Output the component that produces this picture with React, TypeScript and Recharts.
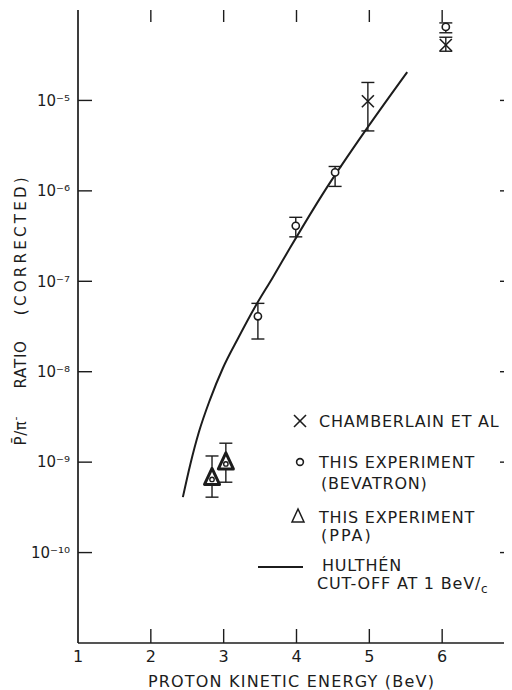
import React from 'react';
import { ComposedChart, Scatter, Line, XAxis, YAxis, ErrorBar } from 'recharts';

const INK = '#1c1c1c';
const FONT = '"DejaVu Sans", "Liberation Sans", sans-serif';

// axis ticks
const xTicks = [1, 2, 3, 4, 5, 6];
const xTickMarks = [2, 3, 4, 5, 6];
const yTicks = [1e-10, 1e-9, 1e-8, 1e-7, 1e-6, 1e-5];
const X_MIN = 1;
const X_MAX = 7;
const Y_MIN = 1e-11;
const Y_MAX = 1e-4;

// Chamberlain et al (x markers)
const chamberlainEnergy = [4.98, 6.05];
const chamberlainRatio = [9.8e-6, 4.1e-5];
const chamberlainLow = [4.6e-6, 3.5e-5];
const chamberlainHigh = [1.58e-5, 5.0e-5];

// This experiment (Bevatron) – circles
const bevatronEnergy = [3.47, 3.99, 4.53, 6.05];
const bevatronRatio = [4.1e-8, 4.1e-7, 1.6e-6, 6.5e-5];
const bevatronLow = [2.3e-8, 3.1e-7, 1.12e-6, 5.6e-5];
const bevatronHigh = [5.7e-8, 5.1e-7, 1.86e-6, 7.2e-5];

// This experiment (PPA) – triangles
const ppaEnergy = [2.84, 3.03];
const ppaRatio = [6.6e-10, 9.8e-10];
const ppaLow = [4.1e-10, 6.0e-10];
const ppaHigh = [1.17e-9, 1.62e-9];

// Hulthen cut-off curve
const hulthenEnergy = [2.44, 2.54, 2.66, 2.81, 2.99, 3.2, 3.43, 3.67, 3.91, 4.37, 4.97, 5.52];
const hulthenRatio = [4.1e-10, 9.3e-10, 2.15e-9, 4.86e-9, 1.1e-8, 2.36e-8, 5.2e-8, 1.09e-7, 2.33e-7, 9.5e-7, 4.95e-6, 2.06e-5];

const withErr = (xs: number[], ys: number[], lo: number[], hi: number[]) =>
  xs.map((x, i) => ({ x, y: ys[i], err: [ys[i] - lo[i], hi[i] - ys[i]] }));

const chamberlainData = withErr(chamberlainEnergy, chamberlainRatio, chamberlainLow, chamberlainHigh);
const bevatronData = withErr(bevatronEnergy, bevatronRatio, bevatronLow, bevatronHigh);
const ppaData = withErr(ppaEnergy, ppaRatio, ppaLow, ppaHigh);
const hulthenData = hulthenEnergy.map((x, i) => ({ x, y: hulthenRatio[i] }));

// frame tick marks, placed through the chart scales
const bottomMarks = xTickMarks.map((x) => ({ x, y: Y_MIN }));
const topMarks = xTickMarks.map((x) => ({ x, y: Y_MAX }));
const leftMarks = yTicks.map((y) => ({ x: X_MIN, y }));
const rightMarks = yTicks.map((y) => ({ x: X_MAX, y }));

const mk = (dx: number, dy: number) => (p: any) => {
  const { cx, cy } = p;
  if (cx == null || cy == null) return <g />;
  return <line x1={cx} y1={cy} x2={cx + dx} y2={cy + dy} stroke={INK} strokeWidth={1.4} />;
};
const UpMark = mk(0, -14);
const DownMark = mk(0, 12);
const RightwardMark = mk(14, 0);
const LeftwardMark = mk(-15, 0);

const XMark = (p: any) => {
  const { cx, cy } = p;
  if (cx == null || cy == null) return <g />;
  return (
    <g stroke={INK} strokeWidth={1.6}>
      <line x1={cx - 6} y1={cy - 6} x2={cx + 6} y2={cy + 6} />
      <line x1={cx - 6} y1={cy + 6} x2={cx + 6} y2={cy - 6} />
    </g>
  );
};

const CircleMark = (p: any) => {
  const { cx, cy } = p;
  if (cx == null || cy == null) return <g />;
  return <circle cx={cx} cy={cy} r={3.6} fill="#fff" stroke={INK} strokeWidth={1.6} />;
};

const TriMark = (p: any) => {
  const { cx, cy } = p;
  if (cx == null || cy == null) return <g />;
  return (
    <g>
      <polygon
        points={`${cx},${cy - 10} ${cx - 7.5},${cy + 6} ${cx + 7.5},${cy + 6}`}
        fill="#fff"
        stroke={INK}
        strokeWidth={3}
        strokeLinejoin="round"
      />
      <circle cx={cx} cy={cy + 1} r={2.2} fill="#fff" stroke={INK} strokeWidth={1.4} />
    </g>
  );
};

const SUP: Record<string, string> = {
  '-': '\u207b', '0': '\u2070', '1': '\u00b9', '2': '\u00b2', '3': '\u00b3', '4': '\u2074',
  '5': '\u2075', '6': '\u2076', '7': '\u2077', '8': '\u2078', '9': '\u2079',
};
const powerLabel = (v: number) => {
  const e = String(Math.round(Math.log10(v)));
  return '10' + e.split('').map((c) => SUP[c] || c).join('');
};

const NoTick = () => <g />;

const Overlay = () => {
  const t = { fontSize: 16, letterSpacing: 0.8, fill: INK, fontFamily: FONT } as const;
  const cx = 13;
  const cy = 437.5;
  return (
    <svg
      width={504}
      height={682}
      style={{ position: 'absolute', left: 0, top: 0, pointerEvents: 'none', overflow: 'visible' }}
    >
      {/* y-axis title */}
      <text
        x={cx}
        y={cy}
        transform={`rotate(-90 ${cx} ${cy})`}
        textAnchor="start"
        dominantBaseline="central"
        fontSize={15}
        fill={INK}
        fontFamily={FONT}
      >
        <tspan letterSpacing={0.6}>{'P\u0304/\u03c0'}</tspan>
        <tspan dy={-6} fontSize={11}>-</tspan>
        <tspan dy={6} dx={28} letterSpacing={0.8}>RATIO</tspan>
        <tspan dx={25} letterSpacing={3.3}>(CORRECTED)</tspan>
      </text>
      {/* x-axis title */}
      <text x={283.5} y={678.5} textAnchor="middle" fontSize={16} letterSpacing={1.2} fill={INK} fontFamily={FONT}>
        PROTON KINETIC ENERGY (BeV)
      </text>
      {/* legend */}
      <g transform="translate(242 404)">
        <g stroke={INK} strokeWidth={1.6}>
          <line x1={44} y1={3} x2={56} y2={15} />
          <line x1={44} y1={15} x2={56} y2={3} />
        </g>
        <text x={69} y={15} {...t}>CHAMBERLAIN ET AL</text>
        <circle cx={50} cy={50} r={3.4} fill="#fff" stroke={INK} strokeWidth={1.6} />
        <text x={69} y={56} {...t}>THIS EXPERIMENT</text>
        <text x={71} y={77} {...t}>(BEVATRON)</text>
        <polygon points="48,97 42,110 54,110" fill="none" stroke={INK} strokeWidth={1.5} />
        <text x={69} y={111} {...t}>THIS EXPERIMENT</text>
        <text x={71} y={129} {...t} letterSpacing={2}>(PPA)</text>
        <line x1={8} y1={155} x2={53} y2={155} stroke={INK} strokeWidth={2} />
        <text x={72} y={159} {...t}>HULTHÉN</text>
        <text x={67} y={177} {...t}>
          CUT-OFF AT 1 BeV/<tspan dy={4} fontSize={12}>c</tspan>
        </text>
      </g>
    </svg>
  );
};

const axisLine = { stroke: INK, strokeWidth: 1.7 };
const tickText = { fontSize: 16, fill: INK, fontFamily: FONT };
const yTickText = { fontSize: 15, fill: INK, fontFamily: FONT };

export default function App() {
  return (
    <div style={{ position: 'relative', width: 504, height: 682, overflow: 'hidden', background: '#fff' }}>
      <ComposedChart width={520} height={682} margin={{ top: 2, right: 13, left: 8, bottom: 0 }}>
        <XAxis
          xAxisId="b"
          dataKey="x"
          type="number"
          domain={[X_MIN, X_MAX]}
          allowDataOverflow
          ticks={xTicks}
          height={47}
          tick={tickText}
          tickLine={false}
          axisLine={axisLine}
        />
        <XAxis
          xAxisId="t"
          orientation="top"
          dataKey="x"
          type="number"
          domain={[X_MIN, X_MAX]}
          allowDataOverflow
          ticks={xTicks}
          height={0}
          tickSize={0}
          tick={NoTick}
          tickLine={false}
          axisLine={axisLine}
        />
        <YAxis
          yAxisId="l"
          dataKey="y"
          type="number"
          scale="log"
          domain={[Y_MIN, Y_MAX]}
          allowDataOverflow
          ticks={yTicks}
          width={62}
          tick={yTickText}
          tickFormatter={powerLabel}
          tickLine={false}
          axisLine={axisLine}
        />
        <YAxis
          yAxisId="r"
          orientation="right"
          dataKey="y"
          type="number"
          scale="log"
          domain={[Y_MIN, Y_MAX]}
          allowDataOverflow
          ticks={yTicks}
          width={0}
          tickSize={0}
          tick={NoTick}
          tickLine={false}
          axisLine={axisLine}
        />
        <Scatter xAxisId="b" yAxisId="l" data={bottomMarks} dataKey="y" shape={UpMark} isAnimationActive={false} />
        <Scatter xAxisId="b" yAxisId="l" data={topMarks} dataKey="y" shape={DownMark} isAnimationActive={false} />
        <Scatter xAxisId="b" yAxisId="l" data={leftMarks} dataKey="y" shape={RightwardMark} isAnimationActive={false} />
        <Scatter xAxisId="b" yAxisId="l" data={rightMarks} dataKey="y" shape={LeftwardMark} isAnimationActive={false} />
        <Line
          xAxisId="b"
          yAxisId="l"
          data={hulthenData}
          dataKey="y"
          type="monotone"
          stroke={INK}
          strokeWidth={2}
          dot={false}
          activeDot={false}
          isAnimationActive={false}
        />
        <Scatter xAxisId="b" yAxisId="l" data={chamberlainData} dataKey="y" shape={XMark} isAnimationActive={false}>
          <ErrorBar dataKey="err" direction="y" width={6.5} stroke={INK} strokeWidth={1.4} isAnimationActive={false} />
        </Scatter>
        <Scatter xAxisId="b" yAxisId="l" data={bevatronData} dataKey="y" shape={CircleMark} isAnimationActive={false}>
          <ErrorBar dataKey="err" direction="y" width={6.5} stroke={INK} strokeWidth={1.4} isAnimationActive={false} />
        </Scatter>
        <Scatter xAxisId="b" yAxisId="l" data={ppaData} dataKey="y" shape={TriMark} isAnimationActive={false}>
          <ErrorBar dataKey="err" direction="y" width={6.5} stroke={INK} strokeWidth={1.4} isAnimationActive={false} />
        </Scatter>
      </ComposedChart>
      <Overlay />
    </div>
  );
}
